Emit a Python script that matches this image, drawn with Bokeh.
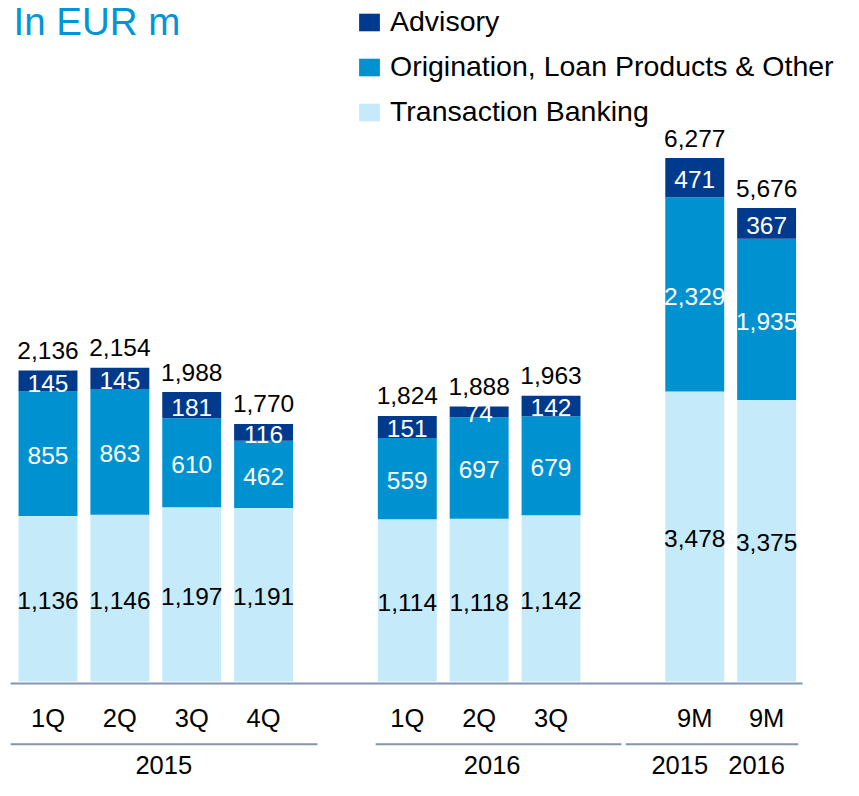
from bokeh.plotting import figure
from bokeh.models import ColumnDataSource, Range1d, Legend, LegendItem, Label
from bokeh.core.properties import value
from bokeh.embed import file_html
from bokeh.resources import INLINE

# ---------------- data ----------------
q_groups = ["2015", "2015", "2015", "2015", "2016", "2016", "2016"]
q_periods = ["1Q", "2Q", "3Q", "4Q", "1Q", "2Q", "3Q"]
q_transaction = [1136, 1146, 1197, 1191, 1114, 1118, 1142]
q_origination = [855, 863, 610, 462, 559, 697, 679]
q_advisory = [145, 145, 181, 116, 151, 74, 142]
q_totals = [2136, 2154, 1988, 1770, 1824, 1888, 1963]

m9_label = "9M"
m9_years = ["2015", "2016"]
m9_transaction = [3478, 3375]
m9_origination = [2329, 1935]
m9_advisory = [471, 367]
m9_totals = [6277, 5676]

series_names = ["Transaction Banking", "Origination, Loan Products & Other", "Advisory"]

# ---------------- style ----------------
C_ADV = "#003A8C"
C_ORIG = "#0092D0"
C_TB = "#C5EBFB"
COLORS = [C_TB, C_ORIG, C_ADV]
LABEL_COLORS = ["black", "white", "white"]
LINE_C = "#8496AE"
TITLE_C = "#0096D6"
FONT = "Liberation Sans"
W, H = 843, 780

# ---------------- slot layout (one empty slot between groups) ----------------
slot_q = []
pos, prev = 0, None
for g in q_groups:
    if prev is not None and g != prev:
        pos += 1
    slot_q.append(pos)
    pos += 1
    prev = g
pos += 1
slot_m9 = [pos, pos + 1]

p = figure(x_range=Range1d(-0.661, 11.070), y_range=Range1d(-679.8, 4676.6),
           width=W, height=H, output_backend="svg", toolbar_location=None,
           x_axis_location=None, y_axis_location=None,
           min_border_left=0, min_border_right=0, min_border_top=0, min_border_bottom=0,
           outline_line_color=None)
p.extra_y_ranges = {"m9": Range1d(-1187.2, 8166.4)}
p.grid.visible = False

BAR_W = 0.82
stack_cols = ["tb", "orig", "adv"]

q_src = ColumnDataSource(dict(x=slot_q, tb=q_transaction, orig=q_origination, adv=q_advisory))
m9_src = ColumnDataSource(dict(x=slot_m9, tb=m9_transaction, orig=m9_origination, adv=m9_advisory))

rq = p.vbar_stack(stack_cols, x="x", width=BAR_W, fill_color=COLORS, line_color=None, source=q_src)
rm = p.vbar_stack(stack_cols, x="x", width=BAR_W, fill_color=COLORS, line_color=None,
                  source=m9_src, y_range_name="m9")


def seg_labels(xs_in, tb, orig, adv):
    xs, ys, txt, col = [], [], [], []
    for x, a, b, c in zip(xs_in, tb, orig, adv):
        base = 0
        for v, cl in zip((a, b, c), LABEL_COLORS):
            xs.append(x)
            ys.append(base + v / 2)
            txt.append(f"{v:,}")
            col.append(cl)
            base += v
    return dict(x=xs, y=ys, t=txt, c=col)


q_lab = ColumnDataSource(seg_labels(slot_q, q_transaction, q_origination, q_advisory))
m9_lab = ColumnDataSource(seg_labels(slot_m9, m9_transaction, m9_origination, m9_advisory))

text_kw = dict(text_font=value(FONT), text_font_size="24.5px", text_align="center",
               text_baseline="middle", y_offset=2)
p.text(x="x", y="y", text="t", text_color="c", source=q_lab, **text_kw)
p.text(x="x", y="y", text="t", text_color="c", source=m9_lab, y_range_name="m9", **text_kw)

tot_kw = dict(text_font=value(FONT), text_font_size="24.5px", text_align="center",
              text_baseline="middle", text_color="black", y_offset=-20)
p.text(x=slot_q, y=q_totals, text=[f"{v:,}" for v in q_totals], **tot_kw)
p.text(x=slot_m9, y=m9_totals, text=[f"{v:,}" for v in m9_totals], y_range_name="m9", **tot_kw)

# category labels
cat_kw = dict(text_font=value(FONT), text_font_size="25.5px", text_align="center",
              text_baseline="middle", text_color="black")
p.text(x=slot_q + slot_m9, y=[-249] * 9, text=q_periods + [m9_label] * 2, **cat_kw)
g15 = [s for s, g in zip(slot_q, q_groups) if g == "2015"]
g16 = [s for s, g in zip(slot_q, q_groups) if g == "2016"]
year_x = [sum(g15) / len(g15), sum(g16) / len(g16)] + slot_m9
p.text(x=year_x, y=[-575] * 4, text=["2015", "2016"] + m9_years,
       x_offset=[8, 13, -15, -10], **cat_kw)

# axis line and group underlines
p.segment(x0=[slot_q[0] - 0.52], y0=[-13.5], x1=[slot_m9[-1] + 0.50], y1=[-13.5],
          line_color=LINE_C, line_width=2)
p.segment(x0=[g15[0] - 0.52, g16[0] - 0.44, slot_m9[0] - 0.96],
          y0=[-431] * 3,
          x1=[g15[-1] + 0.75, g16[-1] + 0.98, slot_m9[-1] + 0.44],
          y1=[-431] * 3, line_color=LINE_C, line_width=2)

legend = Legend(items=[LegendItem(label=series_names[2], renderers=[rq[2]]),
                       LegendItem(label=series_names[1], renderers=[rq[1]]),
                       LegendItem(label=series_names[0], renderers=[rq[0]])],
                location=(356, 652), orientation="vertical",
                glyph_width=26, glyph_height=22, label_standoff=8, spacing=12,
                padding=0, margin=0, border_line_color=None, background_fill_alpha=0,
                label_text_font_size="28.5px", label_text_font=FONT, label_text_color="black")
p.add_layout(legend)

p.add_layout(Label(x=13, y=759, x_units="screen", y_units="screen", text="In EUR m",
                   text_font_size="38.5px", text_color=TITLE_C, text_baseline="middle",
                   text_font=FONT))

open("out.html", "w").write(file_html(p, INLINE))
